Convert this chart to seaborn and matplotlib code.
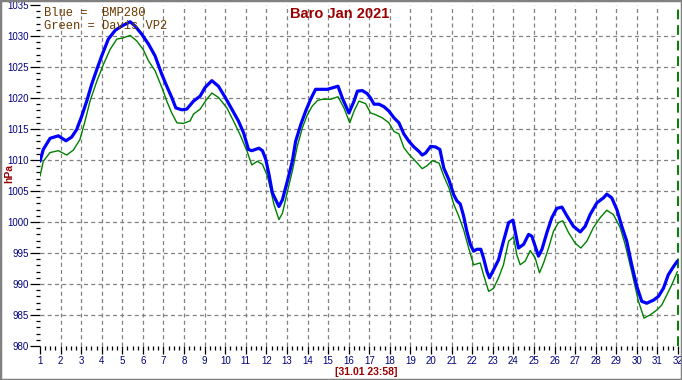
import matplotlib
matplotlib.use('Agg')
import matplotlib.pyplot as plt
import seaborn as sns
import pandas as pd
from matplotlib.ticker import MultipleLocator
from matplotlib.patches import Rectangle

# ---------------- data ----------------
blue_day = [1.0, 1.16, 1.49, 1.89, 2.26, 2.54, 2.78, 3.03, 3.27, 3.51, 3.76, 4.00, 4.32, 4.65, 4.97,
            5.38, 5.62, 5.94, 6.27, 6.59, 6.92, 7.16, 7.40, 7.60, 7.89, 8.13, 8.46, 8.78, 9.02, 9.35,
            9.67, 10.00, 10.32, 10.64, 10.89, 11.13, 11.29,
            11.64, 11.81, 11.97, 12.13, 12.29, 12.45, 12.61, 12.78, 13.02, 13.26, 13.42, 13.67, 13.91,
            14.15, 14.39, 14.64, 14.96, 15.28, 15.48, 15.69, 16.01, 16.26, 16.42, 16.66, 16.90, 17.06,
            17.23, 17.47, 17.71, 17.95, 18.20, 18.44, 18.68, 18.93, 19.17, 19.41, 19.57, 19.73, 19.98,
            20.22, 20.43, 20.62, 20.87,
            21.10, 21.26, 21.42, 21.58, 21.74, 21.91, 22.07, 22.23, 22.42, 22.55, 22.72, 22.84, 23.04,
            23.28, 23.52, 23.77, 23.98, 24.09, 24.25, 24.50, 24.74, 24.90, 25.06, 25.22, 25.39, 25.63,
            25.87, 26.11, 26.36, 26.60, 26.92, 27.25, 27.49, 27.73, 28.06, 28.38, 28.54, 28.78, 29.03,
            29.27, 29.51, 29.75, 30.00, 30.24, 30.48, 30.81, 31.05, 31.29, 31.53, 31.78, 31.97]
blue_hpa = [1009.8, 1011.7, 1013.5, 1013.9, 1013.1, 1013.7, 1014.9, 1017.1, 1019.5, 1022.2, 1024.6,
            1026.8, 1029.5, 1030.9, 1031.6, 1032.3, 1031.6, 1030.3, 1028.7, 1026.8, 1023.8, 1021.9,
            1020.1, 1018.4, 1018.1, 1018.2, 1019.5, 1020.3, 1021.7, 1022.8, 1021.9, 1020.1, 1018.2,
            1016.3, 1014.4, 1011.7, 1011.5,
            1011.9, 1011.5, 1010.1, 1007.6, 1004.7, 1003.6, 1002.5, 1003.6, 1006.6, 1009.8, 1013.0,
            1015.7, 1017.9, 1019.8, 1021.4, 1021.4, 1021.4, 1021.7, 1021.9, 1020.0, 1017.6, 1019.5,
            1021.1, 1021.2, 1020.7, 1020.0, 1019.0, 1019.0, 1018.6, 1017.9, 1016.8, 1016.0, 1014.2,
            1013.0, 1012.1, 1011.4, 1010.8, 1011.1, 1012.2, 1012.1, 1011.7, 1008.7, 1006.8,
            1004.4, 1003.4, 1002.9, 1001.0, 998.5, 996.4, 995.3, 995.6, 995.6, 994.2, 992.0, 991.0,
            992.3, 993.9, 996.9, 999.9, 1000.3, 998.5, 995.8, 996.4, 998.0, 997.7, 996.1, 994.5,
            995.6, 998.3, 1000.7, 1002.2, 1002.4, 1001.0, 999.3, 998.4, 999.3, 1001.2, 1003.1,
            1003.9, 1004.5, 1003.9, 1002.0, 999.3, 996.9, 993.1, 989.6, 987.2, 986.9, 987.4, 988.0,
            989.3, 991.5, 992.8, 993.7]

green_day = [1.0, 1.16, 1.49, 1.89, 2.30, 2.62, 2.94, 3.19, 3.43, 3.76, 4.08, 4.40, 4.73, 5.05, 5.38,
             5.70, 6.02, 6.27, 6.59, 6.92, 7.16, 7.40, 7.65, 7.97, 8.29, 8.46, 8.78, 9.10, 9.35, 9.67,
             10.08, 10.40, 10.72, 11.05, 11.29,
             11.56, 11.81, 12.05, 12.21, 12.37, 12.61, 12.78, 13.02, 13.26, 13.50, 13.75, 13.99, 14.23,
             14.48, 14.72, 15.12, 15.48, 15.77, 16.05, 16.26, 16.50, 16.82, 17.06, 17.31, 17.63, 17.95,
             18.20, 18.44, 18.68, 18.93, 19.25, 19.57, 19.82, 20.06, 20.39, 20.62, 20.87,
             21.10, 21.34, 21.58, 21.83, 22.07, 22.39, 22.55, 22.80, 23.04, 23.28, 23.52, 23.77, 24.01,
             24.17, 24.33, 24.58, 24.82, 25.06, 25.27, 25.47, 25.71, 25.95, 26.19, 26.40, 26.68, 27.00,
             27.28, 27.57, 27.89, 28.22, 28.54, 28.86, 29.19, 29.43, 29.75, 30.08, 30.35, 30.64, 30.97,
             31.21, 31.45, 31.70, 31.97]
green_hpa = [1007.4, 1009.8, 1011.2, 1011.5, 1010.8, 1011.6, 1013.3, 1016.3, 1019.5, 1022.7, 1025.4,
             1027.8, 1029.5, 1029.7, 1030.1, 1029.2, 1027.8, 1026.0, 1024.4, 1021.7, 1019.5, 1017.6,
             1016.0, 1015.9, 1016.3, 1017.4, 1018.2, 1019.8, 1020.8, 1020.1, 1018.4, 1016.3, 1014.1,
             1011.5, 1009.2,
             1009.8, 1009.3, 1007.4, 1005.2, 1002.8, 1000.4, 1001.4, 1004.9, 1008.2, 1012.2, 1015.2,
             1017.3, 1018.7, 1019.6, 1019.8, 1019.8, 1020.2, 1018.4, 1016.0, 1017.9, 1019.5, 1019.1,
             1017.6, 1017.3, 1016.8, 1016.0, 1014.6, 1014.2, 1012.0, 1010.9, 1009.8, 1008.6, 1009.1,
             1009.9, 1009.5, 1007.4, 1005.5,
             1002.9, 1001.0, 998.8, 995.8, 993.1, 993.4, 991.5, 988.8, 989.3, 991.0, 993.1, 996.9,
             997.6, 994.7, 993.1, 993.7, 995.4, 994.2, 991.8, 993.4, 995.8, 998.5, 999.9, 1000.2,
             998.3, 996.6, 995.8, 996.9, 999.1, 1000.7, 1001.9, 1001.2, 999.1, 996.4, 992.0, 987.2,
             984.5, 985.0, 985.8, 986.6, 988.2, 989.9, 992.0]

day_ticks = list(range(1, 33))
hpa_ticks = list(range(980, 1036, 5))

title = "Baro Jan 2021"
ylabel = "hPa"
stamp = "[31.01 23:58]"
legend_lines = ["Blue =  BMP280", "Green = Davis VP2"]

# ---------------- figure ----------------
sns.set_style('white')
plt.rcParams['font.family'] = ['Liberation Sans', 'DejaVu Sans']

fig = plt.figure(figsize=(6.82, 3.80), dpi=100)
fig.patch.set_facecolor('white')
ax = fig.add_axes([40 / 682, 34 / 380, 638 / 682, 341 / 380])
ax.set_facecolor('white')

ax.set_xlim(1, 32)
ax.set_ylim(980, 1035)

grid_kw = dict(color='#808080', lw=0.9, ls=(0, (3.2, 2.6)), zorder=1)
for d in day_ticks[1:-1]:
    ax.axvline(d, **grid_kw)
for h in hpa_ticks[1:-1]:
    ax.axhline(h, **grid_kw)
ax.axvline(day_ticks[-1], color='#008000', lw=1.4, ls=(0, (5, 3)), clip_on=False, zorder=2)

df_g = pd.DataFrame({'day': green_day, 'hPa': green_hpa})
df_b = pd.DataFrame({'day': blue_day, 'hPa': blue_hpa})
sns.lineplot(data=df_g, x='day', y='hPa', color='#008000', lw=1.0, ax=ax,
             estimator=None, sort=False, zorder=3)
sns.lineplot(data=df_b, x='day', y='hPa', color='#0000ff', lw=2.3, ax=ax,
             estimator=None, sort=False, zorder=4)
ax.set_xlabel('')
ax.set_ylabel('')

for s in ax.spines.values():
    s.set_visible(False)

ax.set_xticks(day_ticks)
ax.set_xticklabels([str(d) for d in day_ticks])
ax.set_yticks(hpa_ticks)
ax.set_yticklabels([str(h) for h in hpa_ticks])
ax.xaxis.set_minor_locator(MultipleLocator(0.25))
ax.yaxis.set_minor_locator(MultipleLocator(1))

ax.tick_params(axis='x', which='major', bottom=True, direction='out', length=5.5, width=0.9,
               color='black', labelsize=7, labelcolor='#000080', pad=1.5)
ax.tick_params(axis='x', which='minor', bottom=True, direction='out', length=3, width=0.9,
               color='black')
ax.tick_params(axis='y', which='major', left=True, direction='out', length=7, width=0.9,
               color='black', labelsize=7, labelcolor='#000080', pad=1)
ax.tick_params(axis='y', which='minor', left=True, direction='out', length=3, width=0.9,
               color='black')

fig.text(340 / 682, 1 - 14 / 380, title, color='#990000', fontweight='bold', fontsize=10.5,
         ha='center', va='center')
fig.text(9.5 / 682, 1 - 173 / 380, ylabel, color='#990000', fontweight='bold', fontsize=7.5,
         rotation=90, ha='center', va='center')
fig.text(366 / 682, 1 - 372 / 380, stamp, color='#990000', fontweight='bold', fontsize=7.5,
         ha='center', va='center')
for i, line in enumerate(legend_lines):
    fig.text(44 / 682, 1 - (12.5 + 13.5 * i) / 380, line, family='Liberation Mono',
             fontsize=8.7, color='#6b3a00', ha='left', va='center', zorder=10)

fig.patches.append(Rectangle((0, 0), 1, 1, transform=fig.transFigure, fill=False,
                             edgecolor='#808080', lw=2.5))

fig.savefig('out.png', dpi=100)
